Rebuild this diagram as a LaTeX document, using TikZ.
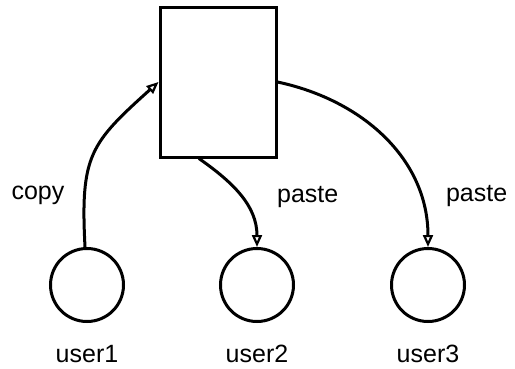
\documentclass[tikz,border=0pt]{standalone}
\usepackage{fontspec}
\setmainfont{Liberation Sans}
\usetikzlibrary{positioning, arrows.meta}

\tikzset{
	board/.style={draw, rectangle, line width=3pt, minimum width=116pt, minimum height=150pt},
	user/.style={draw, circle, line width=3pt, minimum size=73pt, inner sep=0pt},
	flow/.style={-{Triangle[open, length=12pt, width=10pt, line width=2.2pt]}, line width=3pt},
	lbl/.style={font=\fontsize{25}{30}\selectfont, inner sep=0pt}
}

\begin{document}
\begin{tikzpicture}[x=1pt, y=1pt]
	\useasboundingbox (0,0) rectangle (515,368);

	\node[board] (clip) at (218,286) {};
	\node[user] (u1) at (87,83) {};
	\node[user] (u2) at (257,83) {};
	\node[user] (u3) at (428,83) {};

	\node[lbl, below=22pt of u1] (n1) {user1};
	\node[lbl, below=22pt of u2] (n2) {user2};
	\node[lbl, below=22pt of u3] (n3) {user3};

	\path
		(u1) edge[flow, out=93, in=222, looseness=1.3] node[lbl, left=20pt, pos=0.3, yshift=-13pt] {copy} (clip.west)
		(clip.256) edge[flow, out=-35, in=90] node[lbl, right=32pt, pos=0.55, yshift=3pt] {paste} (u2)
		(clip.east) edge[flow, out=-12, in=90] node[lbl, right=24pt, pos=0.8, yshift=2pt] {paste} (u3)
		;
\end{tikzpicture}
\end{document}
